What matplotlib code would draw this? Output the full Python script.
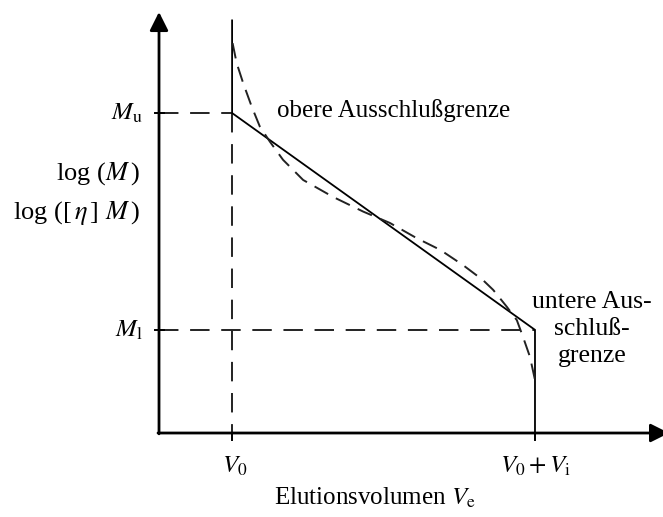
import matplotlib
matplotlib.use("Agg")
from matplotlib import pyplot as plt
import numpy as np

plt.rcParams['font.family'] = ['Liberation Serif', 'DejaVu Serif']
plt.rcParams['mathtext.fontset'] = 'stix'

# characteristic volumes and exclusion limits (arbitrary units)
V0 = 1.45
V_end = 7.46          # V0 + Vi
M_u = 7.60            # upper exclusion limit
M_l = 2.45            # lower exclusion limit
V_top = 9.8

# idealised calibration line
ideal_x = [V0, V0, V_end, V_end]
ideal_y = [V_top, M_u, M_l, 0.0]

# real calibration curve (dashed)
real_x = [1.46, 1.54, 1.67, 1.84, 2.00, 2.20, 2.46, 2.86, 3.45, 4.05, 4.58,
          5.11, 5.58, 6.03, 6.43, 6.63, 6.90, 7.10, 7.22, 7.36, 7.46]
real_y = [9.26, 8.79, 8.31, 7.75, 7.28, 6.92, 6.49, 6.01, 5.61, 5.26, 4.99,
          4.63, 4.35, 3.99, 3.63, 3.40, 3.00, 2.68, 2.29, 1.81, 1.26]

fig = plt.figure(figsize=(6.63, 5.17), dpi=100)
ax = fig.add_axes([0, 0, 1, 1])
ax.set_xlim(-3.155, 10.0)
ax.set_ylim(-1.995, 10.285)
ax.axis('off')

# axes with arrow heads
arrow = dict(arrowstyle='-|>', lw=2, color='k', mutation_scale=28, shrinkA=0, shrinkB=0)
ax.annotate('', xy=(0, 10.0), xytext=(0, -0.02), arrowprops=arrow, annotation_clip=False)
ax.annotate('', xy=(10.12, 0), xytext=(-0.02, 0), arrowprops=arrow, annotation_clip=False)

# guide lines
dash = dict(color='#222222', lw=1.4, dashes=(10, 6))
ax.plot([0, V0], [M_u, M_u], **dash)
ax.plot([0, V_end], [M_l, M_l], **dash)
ax.plot([V0, V0], [M_u, 0], **dash)

# small ticks on the axes
ax.plot([-0.08, 0.1], [M_u, M_u], color='k', lw=1.4)
ax.plot([-0.08, 0.1], [M_l, M_l], color='k', lw=1.4)
ax.plot([V0, V0], [0, -0.17], color='k', lw=1.4)
ax.plot([V_end, V_end], [0, -0.17], color='k', lw=1.4)

ax.plot(ideal_x, ideal_y, color='k', lw=1.3, solid_joinstyle='miter')
ax.plot(real_x, real_y, color='#222222', lw=1.4, dashes=(8, 4.5))

fs = 18
ax.text(-0.32, M_u, r'$M_\mathrm{u}$', fontsize=fs, ha='right', va='center')
ax.text(-0.32, M_l, r'$M_\mathrm{l}$', fontsize=fs, ha='right', va='center')
ax.text(-0.38, 6.03, r'log ($M\,$)', fontsize=fs + 1, ha='right', va='baseline')
ax.text(-0.38, 5.08, r'log ([$\,\eta\,$] $M\,$)', fontsize=fs + 1, ha='right', va='baseline')
ax.text(2.34, 7.5, 'obere Ausschlußgrenze', fontsize=fs, ha='left', va='baseline')
for label, yb in zip(['untere Aus-', 'schluß-', 'grenze'], [2.97, 2.33, 1.69]):
    ax.text(8.59, yb, label, fontsize=fs + 0.5, ha='center', va='baseline')
ax.text(V0 + 0.05, -0.95, r'$V_0$', fontsize=fs, ha='center', va='baseline')
ax.text(V_end + 0.02, -0.95, r'$V_0 + V_\mathrm{i}$', fontsize=fs, ha='center', va='baseline')
ax.text(4.28, -1.71, r'Elutionsvolumen $V_\mathrm{e}$', fontsize=fs, ha='center', va='baseline')

fig.savefig('out.png', dpi=100)
